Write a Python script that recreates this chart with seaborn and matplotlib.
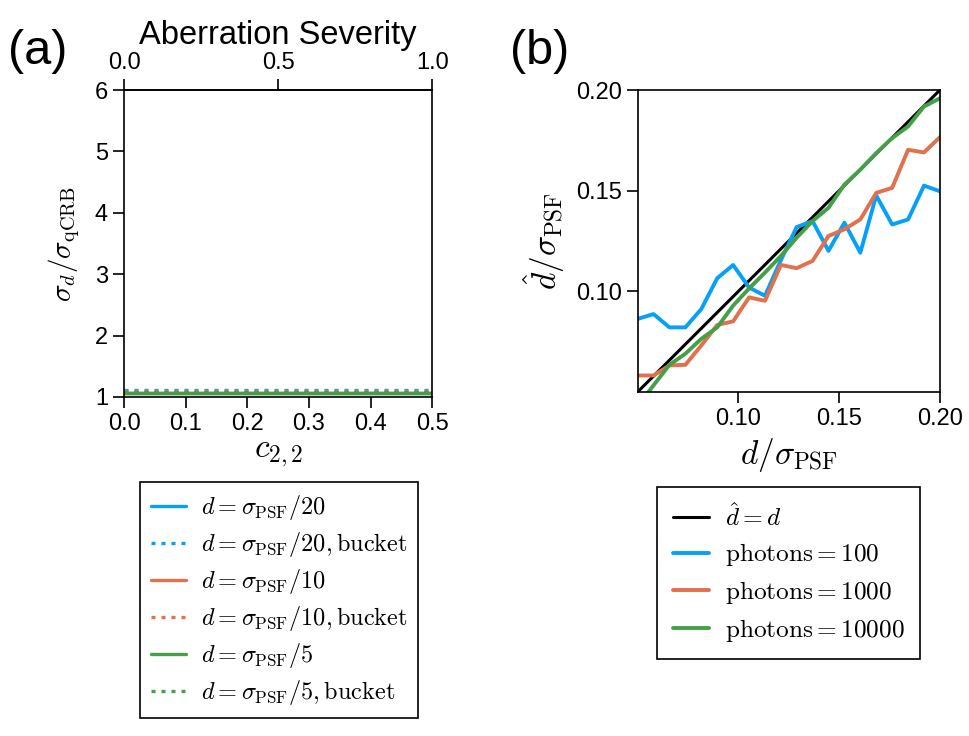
import numpy as np
import pandas as pd
import seaborn as sns
import matplotlib
matplotlib.use("Agg")
import matplotlib.pyplot as plt

# panel (a): sigma_d / sigma_qCRB vs c_{2,2}
C22 = [0.0, 0.05, 0.1, 0.15, 0.2, 0.25, 0.3, 0.35, 0.4, 0.45, 0.5]
RATIO_20 = [1.07, 1.07, 1.07, 1.07, 1.07, 1.07, 1.07, 1.07, 1.07, 1.07, 1.07]
RATIO_20_BUCKET = [1.11, 1.11, 1.11, 1.11, 1.11, 1.11, 1.11, 1.11, 1.11, 1.11, 1.11]
RATIO_10 = [1.06, 1.06, 1.06, 1.06, 1.06, 1.06, 1.06, 1.06, 1.06, 1.06, 1.06]
RATIO_10_BUCKET = [1.09, 1.09, 1.09, 1.09, 1.09, 1.09, 1.09, 1.09, 1.09, 1.09, 1.09]
RATIO_5 = [1.06, 1.06, 1.06, 1.06, 1.06, 1.06, 1.06, 1.06, 1.06, 1.06, 1.06]
RATIO_5_BUCKET = [1.08, 1.08, 1.08, 1.08, 1.08, 1.08, 1.08, 1.08, 1.08, 1.08, 1.08]

# panel (b): estimated separation vs true separation
D_TRUE = [0.0500, 0.0579, 0.0658, 0.0737, 0.0816, 0.0895, 0.0974, 0.1053,
          0.1132, 0.1211, 0.1289, 0.1368, 0.1447, 0.1526, 0.1605, 0.1684,
          0.1763, 0.1842, 0.1921, 0.2000]
EST_100 = [0.0863, 0.0887, 0.0821, 0.0821, 0.0912, 0.1065, 0.1131, 0.1019,
           0.0978, 0.1155, 0.1319, 0.1349, 0.1201, 0.1341, 0.1192, 0.1476,
           0.1332, 0.1357, 0.1525, 0.1497]
EST_1000 = [0.0582, 0.0582, 0.0632, 0.0635, 0.0731, 0.0833, 0.0851, 0.0970,
            0.0953, 0.1131, 0.1115, 0.1151, 0.1275, 0.1308, 0.1357, 0.1489,
            0.1514, 0.1703, 0.1690, 0.1766]
EST_10000 = [0.0430, 0.0533, 0.0635, 0.0690, 0.0764, 0.0821, 0.0929, 0.1014,
             0.1093, 0.1176, 0.1266, 0.1349, 0.1415, 0.1530, 0.1604, 0.1687,
             0.1761, 0.1819, 0.1918, 0.1959]

BLUE = "#05a0fa"
ORANGE = "#e2704c"
GREEN = "#43a047"

sns.set_style("ticks")
plt.rcParams["font.family"] = ["Liberation Sans", "DejaVu Sans"]
plt.rcParams["mathtext.fontset"] = "cm"
plt.rcParams["axes.linewidth"] = 1.2
plt.rcParams["xtick.major.width"] = 1.2
plt.rcParams["ytick.major.width"] = 1.2
plt.rcParams["xtick.major.size"] = 8
plt.rcParams["ytick.major.size"] = 8
plt.rcParams["xtick.color"] = "black"
plt.rcParams["ytick.color"] = "black"
plt.rcParams["axes.edgecolor"] = "black"
plt.rcParams["text.color"] = "black"
plt.rcParams["axes.labelcolor"] = "black"

fig = plt.figure(figsize=(9.69, 7.36), dpi=100)
ax_a = fig.add_axes([0.128, 0.4606, 0.318, 0.4171])
ax_b = fig.add_axes([0.658, 0.4674, 0.312, 0.4103])

# ---- panel (a)
lw = 2.4
dots = (1.2, 1.8)
series_a = [
    (RATIO_20, BLUE, "-", r"$d = \sigma_{\rm PSF}/20$"),
    (RATIO_20_BUCKET, BLUE, ":", r"$d = \sigma_{\rm PSF}/20, \mathrm{bucket}$"),
    (RATIO_10, ORANGE, "-", r"$d = \sigma_{\rm PSF}/10$"),
    (RATIO_10_BUCKET, ORANGE, ":", r"$d = \sigma_{\rm PSF}/10, \mathrm{bucket}$"),
    (RATIO_5, GREEN, "-", r"$d = \sigma_{\rm PSF}/5$"),
    (RATIO_5_BUCKET, GREEN, ":", r"$d = \sigma_{\rm PSF}/5, \mathrm{bucket}$"),
]
for vals, col, ls, lab in series_a:
    sns.lineplot(x=C22, y=vals, ax=ax_a, color=col, linewidth=lw, label=lab)
    if ls == ":":
        ax_a.lines[-1].set_dashes(dots)

ax_a.set_xlim(0, 0.5)
ax_a.set_ylim(1, 6)
ax_a.set_xticks([0.0, 0.1, 0.2, 0.3, 0.4, 0.5])
ax_a.set_yticks([1, 2, 3, 4, 5, 6])
ax_a.tick_params(labelsize=17, direction="out")
ax_a.set_xlabel(r"$c_{2,2}$", fontsize=24, labelpad=2)
ax_a.set_ylabel(r"$\sigma_d/\sigma_{\rm qCRB}$", fontsize=21, labelpad=9)

sec = ax_a.secondary_xaxis("top", functions=(lambda x: 2 * x, lambda x: x / 2))
sec.set_xticks([0.0, 0.5, 1.0])
sec.tick_params(labelsize=17, direction="out", length=8, width=1.2)
sec.set_xlabel("Aberration Severity", fontsize=23.5, labelpad=6)

leg_common = dict(bbox_transform=fig.transFigure, fancybox=False,
                  edgecolor="black", framealpha=1, handlelength=1.45,
                  borderaxespad=0, handletextpad=0.6)
leg_a = ax_a.legend(loc="upper center", bbox_to_anchor=(0.288, 0.345),
                    fontsize=17.5, labelspacing=0.33, borderpad=0.45,
                    **leg_common)
leg_a.get_frame().set_linewidth(1.2)

# ---- panel (b)
sns.lineplot(x=D_TRUE, y=D_TRUE, ax=ax_b, color="black", linewidth=2.2,
             label=r"$\hat{d} = d$")
sns.lineplot(x=D_TRUE, y=EST_100, ax=ax_b, color=BLUE, linewidth=2.8,
             label=r"$\mathrm{photons} = 100$")
sns.lineplot(x=D_TRUE, y=EST_1000, ax=ax_b, color=ORANGE, linewidth=2.8,
             label=r"$\mathrm{photons} = 1000$")
sns.lineplot(x=D_TRUE, y=EST_10000, ax=ax_b, color=GREEN, linewidth=2.8,
             label=r"$\mathrm{photons} = 10000$")

ax_b.set_xlim(0.05, 0.20)
ax_b.set_ylim(0.05, 0.20)
ax_b.set_xticks([0.10, 0.15, 0.20])
ax_b.set_yticks([0.10, 0.15, 0.20])
ax_b.set_xticklabels(["0.10", "0.15", "0.20"])
ax_b.set_yticklabels(["0.10", "0.15", "0.20"])
ax_b.tick_params(labelsize=17, direction="out")
ax_b.set_xlabel(r"$d/\sigma_{\rm PSF}$", fontsize=24, labelpad=4)
ax_b.set_ylabel(r"$\hat{d}/\sigma_{\rm PSF}$", fontsize=24, labelpad=6)

leg_b = ax_b.legend(loc="upper center", bbox_to_anchor=(0.8137, 0.338),
                    fontsize=18.2, labelspacing=0.42, borderpad=0.62,
                    **leg_common)
leg_b.get_frame().set_linewidth(1.2)

for ax in (ax_a, ax_b):
    for side in ("top", "right", "bottom", "left"):
        ax.spines[side].set_visible(True)

fig.text(0.039, 0.93, "(a)", fontsize=35, ha="center", va="center")
fig.text(0.557, 0.93, "(b)", fontsize=35, ha="center", va="center")

fig.savefig("out.png", dpi=100)
